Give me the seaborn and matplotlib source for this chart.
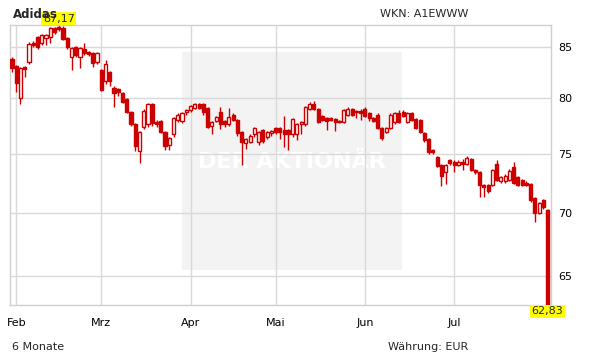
import numpy as np
import pandas as pd
import matplotlib
matplotlib.use("Agg")
import matplotlib.pyplot as plt
import seaborn as sns
from matplotlib.patches import Rectangle
from matplotlib.ticker import FixedLocator, NullLocator, FixedFormatter

# ---------------- data ----------------
title = "Adidas"
wkn_label = "WKN: A1EWWW"
period_label = "6 Monate"
currency_label = "Währung: EUR"
month_labels = ["Feb", "Mrz", "Apr", "Mai", "Jun", "Jul"]
y_ticks = [65, 70, 75, 80, 85]
start_date = "2014-01-31"
end_date = "2014-07-31"
holidays = ["2014-04-18", "2014-04-21", "2014-05-01"]
max_label = "87,17"
min_label = "62,83"

open_ = [83.8, 83.1, 80.0, 83.0, 83.5, 85.4, 86.0, 85.4, 85.9, 86.0,
         86.9, 87.0, 86.9, 85.9, 84.0, 85.0, 84.0, 84.8, 84.5, 84.4,
         83.5, 82.7, 81.6, 82.5, 81.0, 80.9, 80.5, 79.9, 78.7, 77.6,
         75.2, 77.4, 77.6, 79.5, 77.8, 77.9, 76.9, 75.8, 76.7, 78.0,
         77.9, 78.7, 78.9, 79.1, 79.5, 79.5, 79.1, 77.5, 77.9, 78.7,
         77.9, 77.6, 78.5, 78.0, 76.9, 75.9, 76.0, 76.7, 76.0, 77.1,
         76.5, 76.8, 77.3, 77.3, 77.1, 77.1, 76.7, 76.7, 77.6, 77.6,
         79.0, 79.5, 79.0, 78.4, 78.2, 78.2, 78.1, 77.9, 77.8, 78.5,
         79.0, 78.8, 78.8, 79.0, 78.6, 78.2, 78.5, 77.3, 76.9, 77.3,
         77.8, 78.6, 78.7, 77.8, 78.6, 78.1, 78.0, 76.8, 76.3, 75.3,
         74.7, 74.0, 73.4, 74.4, 74.3, 74.0, 74.3, 74.1, 74.5, 73.6,
         73.4, 72.3, 72.3, 72.3, 74.1, 72.6, 72.6, 72.7, 73.8, 73.0,
         72.7, 72.5, 72.4, 71.2, 70.0, 71.0, 70.2]
high = [84.0, 83.2, 83.0, 83.1, 85.5, 85.6, 86.1, 86.3, 86.3, 87.0,
        87.0, 87.17, 87.1, 86.0, 85.0, 85.1, 85.0, 85.4, 84.6, 84.5,
        84.5, 82.8, 83.7, 82.6, 81.2, 81.0, 80.6, 80.0, 78.8, 77.7,
        77.0, 79.0, 79.6, 79.6, 78.0, 78.0, 77.0, 76.5, 78.3, 78.6,
        78.7, 79.0, 79.4, 79.6, 79.6, 79.6, 79.2, 77.9, 78.4, 79.2,
        78.0, 79.1, 78.6, 78.1, 77.0, 76.4, 76.7, 77.4, 77.0, 77.2,
        77.0, 77.1, 77.4, 77.4, 78.4, 77.2, 78.2, 77.7, 77.9, 79.3,
        79.7, 79.8, 79.1, 78.5, 78.3, 78.3, 78.2, 78.0, 79.0, 79.2,
        79.1, 78.9, 79.0, 79.2, 78.7, 78.3, 78.6, 77.4, 77.4, 78.6,
        78.7, 78.9, 78.9, 78.7, 78.7, 78.2, 78.1, 76.9, 76.4, 75.4,
        74.8, 74.1, 74.1, 74.5, 74.4, 74.4, 74.5, 74.8, 74.6, 73.7,
        73.5, 72.4, 72.4, 73.7, 74.4, 73.1, 73.2, 73.7, 74.3, 73.1,
        72.8, 72.6, 72.5, 71.3, 70.9, 71.1, 70.3]
low = [82.5, 80.6, 79.5, 82.0, 83.3, 85.0, 84.8, 85.2, 85.2, 85.4,
       86.3, 86.6, 85.7, 84.8, 82.7, 84.0, 82.9, 84.2, 84.1, 83.0,
       83.3, 80.7, 81.4, 81.2, 79.2, 80.2, 79.6, 78.6, 77.5, 75.2,
       74.2, 77.2, 77.4, 77.5, 77.4, 76.8, 75.3, 75.3, 76.5, 77.8,
       77.7, 78.5, 78.7, 79.0, 79.0, 78.5, 77.3, 76.7, 77.8, 77.2,
       77.4, 77.5, 77.9, 76.6, 74.0, 75.4, 75.9, 76.5, 75.8, 75.9,
       76.3, 76.6, 76.7, 76.3, 75.6, 75.3, 76.5, 76.2, 76.7, 77.5,
       78.9, 78.9, 77.7, 77.9, 77.1, 77.9, 77.0, 77.7, 77.7, 78.4,
       78.4, 78.2, 78.0, 78.3, 77.9, 77.8, 77.2, 76.2, 76.8, 77.2,
       77.6, 77.7, 78.3, 77.7, 77.9, 77.2, 76.8, 76.0, 75.0, 75.0,
       73.8, 72.2, 72.4, 74.0, 73.4, 73.9, 73.6, 74.0, 73.5, 73.2,
       71.3, 71.3, 71.6, 72.2, 72.6, 72.5, 72.5, 72.6, 72.4, 72.2,
       72.2, 72.2, 70.9, 69.2, 69.9, 70.3, 62.83]
close = [82.9, 81.5, 82.9, 82.8, 85.3, 85.2, 85.0, 86.2, 86.2, 86.9,
         86.5, 86.8, 85.8, 85.0, 84.9, 84.2, 84.9, 84.4, 84.3, 83.4,
         84.4, 80.8, 83.3, 81.6, 80.5, 80.6, 79.7, 78.7, 77.6, 75.7,
         76.9, 78.8, 79.5, 77.7, 77.6, 76.9, 75.7, 76.4, 78.2, 78.5,
         78.6, 78.9, 79.3, 79.5, 79.1, 78.7, 77.4, 77.8, 78.3, 77.6,
         77.6, 78.3, 78.0, 76.8, 76.0, 76.3, 76.6, 77.3, 76.9, 76.1,
         76.9, 77.0, 76.9, 76.9, 76.7, 76.7, 78.1, 77.6, 77.8, 79.2,
         79.5, 79.0, 77.8, 78.0, 77.9, 78.0, 77.8, 77.8, 78.9, 79.0,
         78.5, 78.7, 78.6, 78.4, 78.2, 77.9, 77.3, 76.4, 77.3, 78.5,
         78.6, 77.8, 78.4, 78.6, 78.0, 77.3, 76.9, 76.2, 75.1, 75.1,
         73.9, 73.1, 74.0, 74.2, 74.0, 74.3, 74.1, 74.6, 73.6, 73.4,
         72.3, 72.1, 71.8, 73.6, 72.7, 73.0, 73.1, 73.5, 72.5, 72.3,
         72.3, 72.3, 71.0, 70.0, 70.8, 70.5, 62.83]

# ---------------- frame ----------------
dates = pd.bdate_range(start_date, end_date)
dates = dates[~dates.isin(pd.to_datetime(holidays))]
df = pd.DataFrame({"date": dates[:len(close)], "open": open_, "high": high,
                   "low": low, "close": close})
df["idx"] = np.arange(len(df))
up = df["close"] >= df["open"]

RED = "#cc0000"
GRID = "#d9d9d9"

sns.set_theme(style="white")
plt.rcParams["font.family"] = ["DejaVu Sans"]

W, H = 611, 364
fig = plt.figure(figsize=(W / 100, H / 100), dpi=100)
ax = fig.add_axes([10 / W, 1 - 305 / H, 541 / W, 280 / H])

# watermark box (behind grid and candles)
ax.add_patch(Rectangle((182 / W, 1 - 270 / H), 220 / W, 218 / H,
                       transform=fig.transFigure, facecolor="#f3f3f3",
                       edgecolor="none", zorder=0.1, clip_on=False))
ax.text(292 / W, 1 - 162 / H, "DER AKTIONÄR", transform=fig.transFigure,
        color="white", fontsize=16, fontweight="bold", ha="center",
        va="center", zorder=0.2)

# wicks
ax.vlines(df["idx"], df["low"], df["high"], color=RED, lw=1, zorder=2)
# bodies
d_up = df[up]
d_dn = df[~up]
ax.bar(d_up["idx"], d_up["close"] - d_up["open"], bottom=d_up["open"],
       width=0.72, facecolor="white", edgecolor=RED, linewidth=1, zorder=3)
ax.bar(d_dn["idx"], d_dn["open"] - d_dn["close"], bottom=d_dn["close"],
       width=0.72, facecolor=RED, edgecolor=RED, linewidth=1, zorder=3)

ax.set_yscale("log")
ax.set_ylim(min(low), max(high))
ax.set_xlim(-0.47, len(df) - 0.2)

ax.yaxis.set_major_locator(FixedLocator(y_ticks))
ax.yaxis.set_major_formatter(FixedFormatter([str(t) for t in y_ticks]))
ax.yaxis.set_minor_locator(NullLocator())
ax.yaxis.tick_right()

month_start = df.groupby(df["date"].dt.to_period("M"))["idx"].min().values[1:]
ax.set_xticks(month_start)
ax.set_xticklabels(month_labels[:len(month_start)])

ax.tick_params(axis="both", length=0, labelsize=8, colors="black")
ax.tick_params(axis="x", pad=9)
ax.tick_params(axis="y", pad=5)
ax.grid(True, color=GRID, lw=1, zorder=0.5)
ax.set_axisbelow(True)
for s in ax.spines.values():
    s.set_visible(True)
    s.set_color("#cfcfcf")
    s.set_linewidth(1)

# texts
fig.text(13 / W, 1 - 14 / H, title, fontsize=8.5, fontweight="bold",
         ha="left", va="center", zorder=1)
fig.text(468 / W, 1 - 14 / H, wkn_label, fontsize=8, ha="right", va="center")
fig.text(12 / W, 1 - 347 / H, period_label, fontsize=8, ha="left", va="center")
fig.text(468 / W, 1 - 347 / H, currency_label, fontsize=8, ha="right", va="center")

imax = int(np.argmax(high))
imin = int(np.argmin(low))
box = dict(boxstyle="square,pad=0.12", facecolor="#ffff00", edgecolor="none")
ax.annotate(max_label, xy=(imax, max(high)), xytext=(0, 1),
            textcoords="offset points", ha="center", va="bottom",
            fontsize=8, bbox=box, zorder=10, annotation_clip=False)
ax.annotate(min_label, xy=(imin, min(low)), xytext=(0, -1),
            textcoords="offset points", ha="center", va="top",
            fontsize=8, bbox=box, zorder=10, annotation_clip=False)

fig.savefig("out.png", dpi=100, facecolor="white")
